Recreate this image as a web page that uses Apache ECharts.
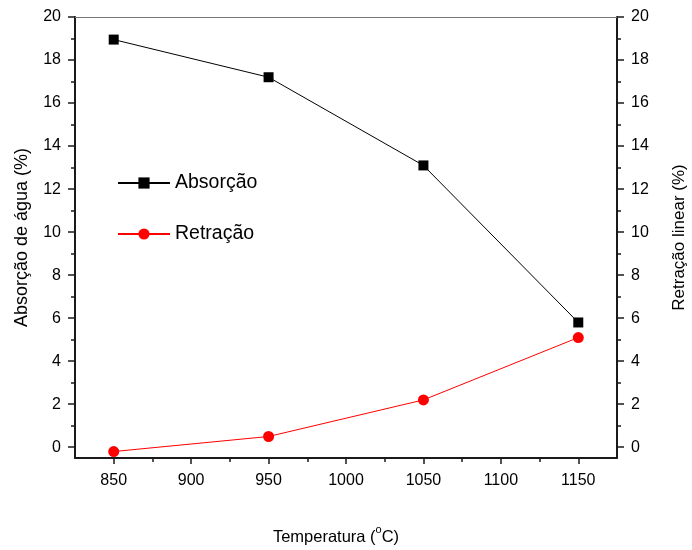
<!DOCTYPE html>
<html>
<head>
<meta charset="utf-8">
<script src="https://cdn.jsdelivr.net/npm/echarts@6/dist/echarts.min.js"></script>
<style>
  html, body { margin: 0; padding: 0; background: #fff; }
  #chart { width: 692px; height: 550px; }
</style>
</head>
<body>
<div id="chart"></div>
<script>
// dados
var temperaturas = [850, 950, 1050, 1150];
var absorcao = [18.95, 17.2, 13.1, 5.8];
var retracao = [-0.2, 0.5, 2.2, 5.1];

// marcações dos eixos
var xTicks = [850, 900, 950, 1000, 1050, 1100, 1150];
var xMinorTicks = [875, 925, 975, 1025, 1075, 1125];
var yTicks = [0, 2, 4, 6, 8, 10, 12, 14, 16, 18, 20];
var yMinorTicks = [1, 3, 5, 7, 9, 11, 13, 15, 17, 19];

var font = 'Liberation Sans, Arial, sans-serif';
var axisColor = '#1a1a1a';

function pares(xs, ys) {
  var out = [];
  for (var i = 0; i < xs.length; i++) {
    out.push([xs[i], ys[i]]);
  }
  return out;
}

// eixo x principal / secundario
function eixoX(ticks, len, showLine, showLabel, pos) {
  return {
    type: 'value',
    position: pos,
    min: 825,
    max: 1175,
    axisLine: { show: showLine, onZero: false, lineStyle: { color: axisColor, width: 2 } },
    axisTick: { show: ticks.length > 0, customValues: ticks, length: len, lineStyle: { color: axisColor, width: 1.5 } },
    axisLabel: {
      show: showLabel, customValues: ticks, margin: 15, color: '#000', fontSize: 16, fontFamily: font,
      formatter: function (v) { return String(v); }
    },
    splitLine: { show: false }
  };
}

function eixoY(ticks, len, showLine, showLabel, pos) {
  return {
    type: 'value',
    position: pos,
    min: -0.5,
    max: 20,
    axisLine: { show: showLine, onZero: false, lineStyle: { color: axisColor, width: 2 } },
    axisTick: { show: true, customValues: ticks, length: len, lineStyle: { color: axisColor, width: 1.5 } },
    axisLabel: {
      show: showLabel, customValues: ticks, margin: 14, color: '#000', fontSize: 16, fontFamily: font,
      formatter: function (v) { return String(v); }
    },
    splitLine: { show: false }
  };
}

var xMain = eixoX(xTicks, 6, true, true, 'bottom');
xMain.name = '{n|Temperatura (}{sup|o}{n|C)}';
xMain.nameLocation = 'middle';
xMain.nameGap = 66;
xMain.nameTextStyle = {
  color: '#000', fontSize: 16.5, fontFamily: font,
  padding: [0, 20, 0, 0],
  rich: {
    n: { fontSize: 16.5, lineHeight: 22, verticalAlign: 'bottom', fontFamily: font, color: '#000' },
    sup: { fontSize: 11, lineHeight: 11, verticalAlign: 'top', fontFamily: font, color: '#000' }
  }
};
var xMinor = eixoX(xMinorTicks, 4, false, false, 'bottom');
var xTop = eixoX([], 0, true, false, 'top');
xTop.axisLine.lineStyle = { color: '#777', width: 1 };
xTop.axisTick.show = false;

var yLeft = eixoY(yTicks, 7, true, true, 'left');
yLeft.name = 'Absorção de água (%)';
yLeft.nameLocation = 'middle';
yLeft.nameRotate = 90;
yLeft.nameGap = 44;
yLeft.nameTextStyle = { color: '#000', fontSize: 18, fontFamily: font };
var yLeftMinor = eixoY(yMinorTicks, 4, false, false, 'left');
var yRight = eixoY(yTicks, 7, true, true, 'right');
yRight.name = 'Retração linear (%)';
yRight.nameLocation = 'middle';
yRight.nameRotate = 90;
yRight.nameGap = 54;
yRight.nameTextStyle = { color: '#000', fontSize: 17, fontFamily: font };
var yRightMinor = eixoY(yMinorTicks, 4, false, false, 'right');

var myChart = echarts.init(document.getElementById('chart'), null, { renderer: 'canvas' });
var option = {
  backgroundColor: '#fff',
  animation: false,
  grid: { left: 75, right: 75, top: 17, bottom: 92, containLabel: false, outerBoundsMode: 'none' },
  legend: {
    orient: 'vertical',
    left: 112,
    top: 168,
    itemGap: 31,
    itemWidth: 52,
    itemHeight: 14,
    textStyle: { color: '#000', fontSize: 19.5, fontFamily: font },
    data: ['Absorção', 'Retração']
  },
  xAxis: [xMain, xMinor, xTop],
  yAxis: [yLeft, yLeftMinor, yRight, yRightMinor],
  series: [
    {
      name: 'Absorção',
      type: 'line',
      xAxisIndex: 0,
      yAxisIndex: 0,
      data: pares(temperaturas, absorcao),
      symbol: 'rect',
      symbolSize: 10,
      itemStyle: { color: '#000' },
      lineStyle: { color: '#000', width: 1 }
    },
    {
      name: 'Retração',
      type: 'line',
      xAxisIndex: 0,
      yAxisIndex: 2,
      data: pares(temperaturas, retracao),
      symbol: 'circle',
      symbolSize: 11,
      itemStyle: { color: '#ff0000' },
      lineStyle: { color: '#ff0000', width: 1 }
    }
  ]
};
myChart.setOption(option, true);
</script>
</body>
</html>
